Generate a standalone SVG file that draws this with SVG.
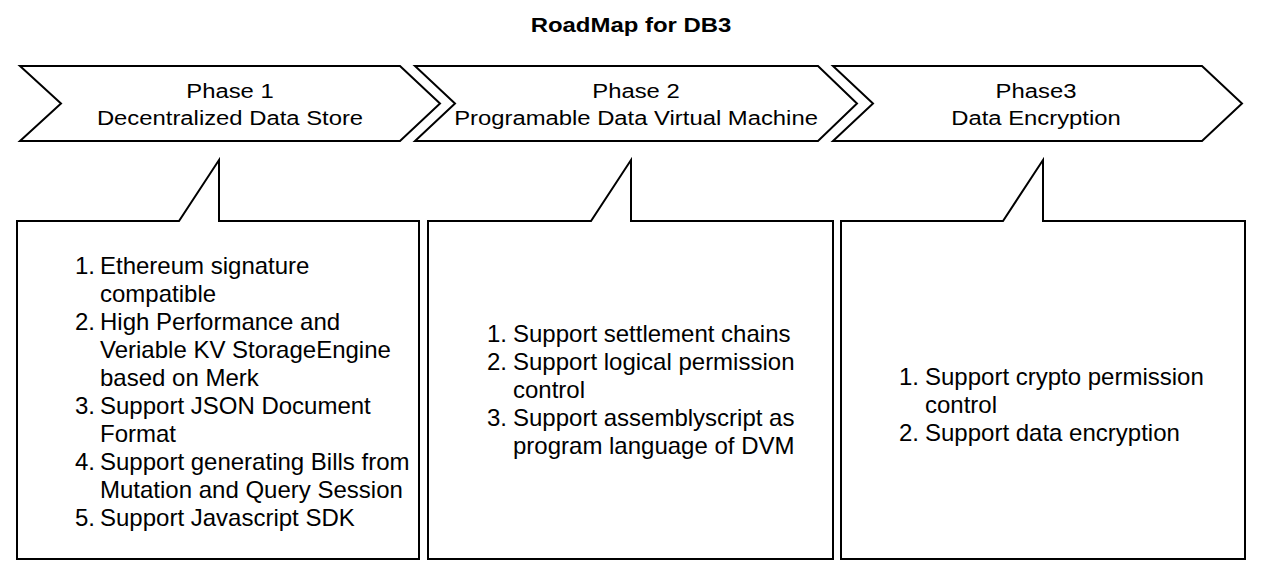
<svg xmlns="http://www.w3.org/2000/svg" width="1262" height="562" viewBox="0 0 1262 562">
<style>
.shape{fill:#ffffff;stroke:#000000;stroke-width:2;stroke-linejoin:miter}
.t{font-family:"Liberation Sans",Arial,Helvetica,sans-serif;fill:#000000}
.head{font-size:21px;text-anchor:middle}
.title{font-size:21px;font-weight:bold;text-anchor:middle}
.li{font-size:24px}
</style>
<rect x="0" y="0" width="1262" height="562" fill="#ffffff"/>
<g id="title"><text class="t title" transform="translate(631,32) scale(1.14,1)" x="0" y="0">RoadMap for DB3</text></g>
<g id="phase1">
<path class="shape" d="M20,66 L400,66 L440,103.5 L400,141 L20,141 L61,103.5 Z"/>
<text class="t head" transform="translate(230,98) scale(1.135,1)">Phase 1</text>
<text class="t head" transform="translate(230,125) scale(1.135,1)">Decentralized Data Store</text>
</g>
<g id="phase2">
<path class="shape" d="M415,66 L818,66 L857,103.5 L818,141 L415,141 L455,103.5 Z"/>
<text class="t head" transform="translate(636,98) scale(1.135,1)">Phase 2</text>
<text class="t head" transform="translate(636,125) scale(1.135,1)">Programable Data Virtual Machine</text>
</g>
<g id="phase3">
<path class="shape" d="M833,66 L1202,66 L1242,103.5 L1202,141 L833,141 L873,103.5 Z"/>
<text class="t head" transform="translate(1036,98) scale(1.135,1)">Phase3</text>
<text class="t head" transform="translate(1036,125) scale(1.135,1)">Data Encryption</text>
</g>
<g id="callout1">
<path class="shape" d="M17,221 L179,221 L219,160 L219,221 L419,221 L419,559 L17,559 Z"/>
<g class="t li">
<text x="75" y="274">1.</text><text x="100" y="274">Ethereum signature</text>
<text x="100" y="302">compatible</text>
<text x="75" y="330">2.</text><text x="100" y="330">High Performance and</text>
<text x="100" y="358">Veriable KV StorageEngine</text>
<text x="100" y="386">based on Merk</text>
<text x="75" y="414">3.</text><text x="100" y="414">Support JSON Document</text>
<text x="100" y="442">Format</text>
<text x="75" y="470">4.</text><text x="100" y="470">Support generating Bills from</text>
<text x="100" y="498">Mutation and Query Session</text>
<text x="75" y="526">5.</text><text x="100" y="526">Support Javascript SDK</text>
</g>
</g>
<g id="callout2">
<path class="shape" d="M428,221 L591,221 L631,160 L631,221 L833,221 L833,559 L428,559 Z"/>
<g class="t li">
<text x="487" y="342">1.</text><text x="513" y="342">Support settlement chains</text>
<text x="487" y="370">2.</text><text x="513" y="370">Support logical permission</text>
<text x="513" y="398">control</text>
<text x="487" y="426">3.</text><text x="513" y="426">Support assemblyscript as</text>
<text x="513" y="454">program language of DVM</text>
</g>
</g>
<g id="callout3">
<path class="shape" d="M841,221 L1003,221 L1043,160 L1043,221 L1245,221 L1245,559 L841,559 Z"/>
<g class="t li">
<text x="899" y="385">1.</text><text x="925" y="385">Support crypto permission</text>
<text x="925" y="413">control</text>
<text x="899" y="441">2.</text><text x="925" y="441">Support data encryption</text>
</g>
</g>
<g id="connectors"></g>
</svg>
